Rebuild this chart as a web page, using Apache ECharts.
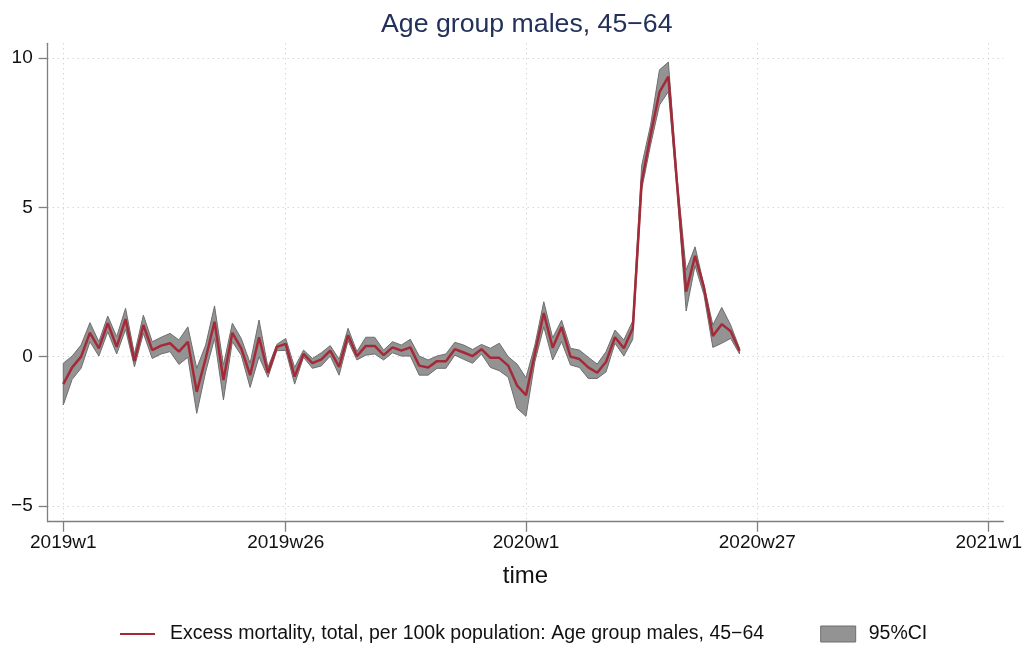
<!DOCTYPE html>
<html>
<head>
<meta charset="utf-8">
<script src="https://cdn.jsdelivr.net/npm/echarts@6/dist/echarts.min.js"></script>
<style>
html,body{margin:0;padding:0;background:#fff;}
#chart{width:1031px;height:648px;}
</style>
</head>
<body>
<div id="chart"></div>
<script>
// Weekly index: 0 = 2019w1 (Stata weekly, 52 weeks per year)
const tickWeeks  = [0, 25, 52, 78, 104];
const tickLabels = ['2019w1', '2019w26', '2020w1', '2020w27', '2021w1'];

// Excess mortality per 100k, males 45-64, weeks 0..76
const excess = [
  -0.92, -0.36, 0.00, 0.80, 0.28, 1.12, 0.33, 1.26, -0.15, 1.06,
   0.22,  0.37, 0.45, 0.17, 0.50, -1.18, -0.06, 1.17, -0.78, 0.80,
   0.28, -0.62, 0.65, -0.54, 0.33, 0.43, -0.67, 0.09, -0.22, -0.09,
   0.20, -0.34, 0.72, 0.02, 0.36, 0.36, 0.05, 0.31, 0.20, 0.31,
  -0.30, -0.36, -0.15, -0.15, 0.25, 0.14, 0.02, 0.25, -0.04, -0.04,
  -0.30, -0.97, -1.29, 0.11, 1.46, 0.30, 0.99, 0.00, -0.08, -0.36,
  -0.54, -0.17, 0.65, 0.28, 0.95, 5.85, 7.43, 8.86, 9.38, 5.70,
   2.18, 3.38, 2.32, 0.69, 1.09, 0.85, 0.20
];
const ciLower = [
  -1.62, -0.76, -0.39, 0.50, 0.02, 0.83, 0.09, 0.91, -0.34, 0.78,
  -0.06,  0.09, 0.17, -0.26, -0.02, -1.90, -0.51, 0.61, -1.45, 0.50,
   0.05, -1.03, 0.00, -0.69, 0.20, 0.21, -0.92, -0.02, -0.39, -0.31,
   0.02, -0.62, 0.53, -0.11, 0.05, 0.09, -0.11, 0.13, 0.02, 0.02,
  -0.62, -0.62, -0.39, -0.39, 0.05, -0.09, -0.22, 0.09, -0.36, -0.47,
  -0.69, -1.73, -2.00, -0.17, 1.00, -0.11, 0.50, -0.28, -0.36, -0.73,
  -0.73, -0.51, 0.45, 0.02, 0.58, 5.60, 7.09, 8.43, 8.88, 5.50,
   1.53, 3.05, 2.07, 0.31, 0.45, 0.61, 0.09
];
const ciUpper = [
  -0.22, 0.02, 0.39, 1.14, 0.50, 1.36, 0.67, 1.62, 0.09, 1.39,
   0.50, 0.65, 0.78, 0.56, 1.00, -0.39, 0.39, 1.70, -0.28, 1.12,
   0.61, -0.22, 1.23, -0.36, 0.41, 0.61, -0.36, 0.22, -0.06, 0.13,
   0.37, -0.09, 0.95, 0.17, 0.65, 0.65, 0.22, 0.50, 0.39, 0.58,
   0.02, -0.11, 0.02, 0.09, 0.48, 0.39, 0.24, 0.41, 0.28, 0.45,
   0.00, -0.25, -0.71, 0.39, 1.84, 0.63, 1.22, 0.28, 0.22, -0.02,
  -0.25, 0.17, 0.89, 0.56, 1.20, 6.40, 7.76, 9.61, 9.87, 5.95,
   2.90, 3.68, 2.40, 1.06, 1.65, 1.06, 0.28
];
const yTicks = [-5, 0, 5, 10];

const lineName = 'Excess mortality, total, per 100k population: Age group males, 45\u221264';
const ciName = '95%CI';
const FONT = "'Liberation Sans', Arial, Helvetica, sans-serif";

const lineData = excess.map((v, i) => [i, v]);
const bandData = ciUpper.map((v, i) => [i, ciLower[i], v]);

function renderBand(params, api) {
  if (params.dataIndex !== 0) return null;
  const up = [], lo = [];
  for (let i = 0; i < ciUpper.length; i++) {
    up.push(api.coord([i, ciUpper[i]]));
    lo.push(api.coord([i, ciLower[i]]));
  }
  const pts = up.concat(lo.reverse());
  return {
    type: 'polygon',
    shape: {points: pts},
    style: {fill: '#939393', stroke: '#6e6e6e', lineWidth: 1},
    silent: true
  };
}

const chart = echarts.init(document.getElementById('chart'), null, {renderer: 'canvas'});
chart.setOption({
  animation: false,
  backgroundColor: '#ffffff',
  textStyle: {fontFamily: FONT},
  title: {
    text: 'Age group males, 45\u221264',
    left: 376,
    top: 6,
    textStyle: {fontFamily: FONT, fontSize: 26.7, fontWeight: 'normal', color: '#22315a'}
  },
  grid: {left: 47.7, right: 27.7, top: 43.3, bottom: 126.3, containLabel: false},
  xAxis: {
    type: 'value',
    min: -1.75,
    max: 105.64,
    name: 'time',
    nameLocation: 'middle',
    nameGap: 43,
    nameTextStyle: {fontFamily: FONT, fontSize: 24, color: '#111'},
    axisLine: {show: true, onZero: false, lineStyle: {color: '#7f7f7f', width: 1.3}},
    axisTick: {show: true, length: 10, customValues: tickWeeks, lineStyle: {color: '#7f7f7f', width: 1.3}},
    axisLabel: {
      customValues: tickWeeks,
      margin: 12,
      fontFamily: FONT, fontSize: 19, color: '#111',
      formatter: v => tickLabels[tickWeeks.indexOf(Math.round(v))] || ''
    },
    splitLine: {show: true, lineStyle: {color: '#c4c4c4', type: [1, 4], width: 1}}
  },
  yAxis: {
    type: 'value',
    min: -5.53,
    max: 10.5,
    axisLine: {show: true, onZero: false, lineStyle: {color: '#7f7f7f', width: 1.3}},
    axisTick: {show: true, length: 9, customValues: yTicks, lineStyle: {color: '#7f7f7f', width: 1.3}},
    axisLabel: {
      customValues: yTicks,
      margin: 15,
      fontFamily: FONT, fontSize: 19, color: '#111',
      formatter: v => (v < 0 ? '\u2212' + Math.abs(v) : String(v))
    },
    splitLine: {show: true, lineStyle: {color: '#c4c4c4', type: [1, 4], width: 1}}
  },
  legend: {
    left: 114,
    top: 619,
    itemGap: 56,
    itemWidth: 35,
    itemHeight: 16,
    textStyle: {fontFamily: FONT, fontSize: 19.5, color: '#111'},
    data: [
      {name: lineName, itemStyle: {opacity: 0}, lineStyle: {width: 2}, textStyle: {padding: [0, 0, 0, 10]}},
      {name: ciName, icon: 'rect', itemStyle: {color: '#939393', borderColor: '#6e6e6e', borderWidth: 1, opacity: 1}, textStyle: {padding: [0, 0, 0, 8]}}
    ]
  },
  series: [
    {
      name: ciName,
      type: 'custom',
      data: bandData,
      encode: {x: 0, y: [1, 2]},
      renderItem: renderBand,
      color: '#939393',
      z: 1
    },
    {
      name: lineName,
      type: 'line',
      data: lineData,
      symbol: 'none',
      color: '#a52a38',
      lineStyle: {color: '#a52a38', width: 2.5},
      z: 3
    }
  ]
});
</script>
</body>
</html>
